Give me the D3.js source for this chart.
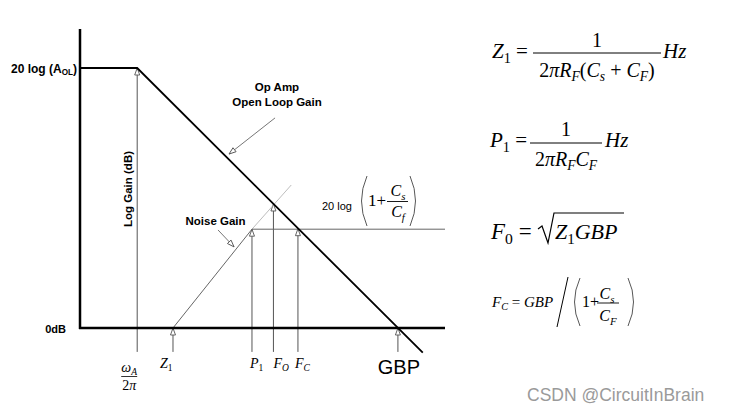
<!DOCTYPE html>
<html>
<head>
    <meta charset="UTF-8">
    <style>
        body { margin: 0; background: #fff; }
        svg { display: block; }
    </style>
</head>
<body>
    <svg></svg>
    <script src="https://d3js.org/d3.v7.min.js"></script>
    <script>

        let width = 729, height = 412;

        // frequency (Hz, log) and gain (dB) domains of the sketch
        const freqDomain = [0.8, 8e6];
        const dbDomain = [0, 115];
        const lineBottomDb = -9.2;

        // op amp open loop gain
        const openLoop = [
            { f: 0.8, db: 100 },
            { f: 10, db: 100 },
            { f: 3e6, db: -9.5 }
        ];

        // noise gain pieces
        const noiseRise = [{ f: 48.6, db: 0 }, { f: 1590, db: 38 }];
        const noiseExt = [{ f: 1590, db: 38 }, { f: 9000, db: 55 }];
        const noiseFlat = [{ f: 1590, db: 38 }, { f: 8e6, db: 38 }];

        // corner frequencies with arrows
        const corners = [
            { id: "wA", f: 10, db: 100 },
            { id: "Z1", f: 48.6, db: 0 },
            { id: "P1", f: 1590, db: 38 },
            { id: "F0", f: 4100, db: 47.7 },
            { id: "FC", f: 12100, db: 38.2 },
            { id: "GBP", f: 1e6, db: 0 }
        ];

        // y labels
        const yLabels = [
            { db: 100, parts: [["20 log (A", "r"], ["OL", "s"], [")", "r"]] },
            { db: 0, parts: [["0dB", "r"]] }
        ];

        // annotation arrows (from label towards curve)
        const annotations = [
            { lines: ["Op Amp", "Open Loop Gain"], at: { f: 4800, db: 91 }, from: { f: 4400, db: 80.8 }, to: { f: 577, db: 66.9 } },
            { lines: ["Noise Gain"], at: { f: 318, db: 39.5 }, from: { f: 355, db: 37.7 }, to: { f: 720, db: 31.2 } }
        ];

        const serif = "'Liberation Serif', 'Times New Roman', serif";
        const sans = "'Liberation Sans', Arial, sans-serif";

        let svg = d3.select("svg")
            .attr("width", width)
            .attr("height", height)
            .attr("viewBox", "0 0 " + width + " " + height);

        svg.append("rect").attr("width", width).attr("height", height).attr("fill", "#fff");

        let x = d3.scaleLog().domain(freqDomain).range([80, 445]);
        let y = d3.scaleLinear().domain(dbDomain).range([328, 29]);

        // open triangle arrow head
        svg.append("defs").append("marker")
            .attr("id", "tri")
            .attr("viewBox", "0 -4 9 8")
            .attr("refX", 8)
            .attr("refY", 0)
            .attr("markerWidth", 9)
            .attr("markerHeight", 8)
            .attr("markerUnits", "userSpaceOnUse")
            .attr("orient", "auto")
            .append("path")
            .attr("d", "M1,-2.5L8,0L1,2.5Z")
            .attr("fill", "#fff")
            .attr("stroke", "#555")
            .attr("stroke-width", 0.9);

        // text with italic / subscript pieces
        function mathText(g, px, py, parts, size, opts) {
            opts = opts || {};
            let t = g.append("text")
                .attr("x", px).attr("y", py)
                .attr("font-family", opts.family || serif)
                .attr("font-size", size)
                .attr("font-weight", opts.weight || "normal")
                .attr("text-anchor", opts.anchor || "start")
                .attr("fill", "#000");
            let shift = 0;
            parts.forEach(p => {
                let sub = p[1][0] === "s";
                let target = sub ? size * 0.22 : 0;
                t.append("tspan")
                    .text(p[0])
                    .attr("font-style", p[1].endsWith("i") ? "italic" : "normal")
                    .attr("font-size", sub ? size * 0.68 : size)
                    .attr("dy", target - shift);
                shift = target;
            });
            return t;
        }

        let line = d3.line().x(d => x(d.f)).y(d => y(d.db));

        let plot = svg.append("g");

        // corner frequency verticals
        plot.selectAll(".corner")
            .data(corners)
            .join("line")
            .attr("x1", d => x(d.f)).attr("x2", d => x(d.f))
            .attr("y1", y(lineBottomDb)).attr("y2", d => y(d.db))
            .attr("stroke", "#555")
            .attr("stroke-width", 1)
            .attr("marker-end", "url(#tri)");

        // noise gain
        plot.append("path").datum(noiseExt).attr("d", line)
            .attr("fill", "none").attr("stroke", "#b5b5b5").attr("stroke-width", 0.9);
        plot.append("path").datum(noiseRise).attr("d", line)
            .attr("fill", "none").attr("stroke", "#666").attr("stroke-width", 1);
        plot.append("path").datum(noiseFlat).attr("d", line)
            .attr("fill", "none").attr("stroke", "#666").attr("stroke-width", 1);

        // open loop gain
        plot.append("path").datum(openLoop).attr("d", line)
            .attr("fill", "none").attr("stroke", "#000").attr("stroke-width", 1.8);

        // axes
        plot.append("line")
            .attr("x1", x(freqDomain[0])).attr("x2", x(freqDomain[0]))
            .attr("y1", y(dbDomain[1])).attr("y2", y(0) + 1)
            .attr("stroke", "#000").attr("stroke-width", 2.5);
        plot.append("line")
            .attr("x1", x(freqDomain[0]) - 1).attr("x2", x(freqDomain[1]))
            .attr("y1", y(0)).attr("y2", y(0))
            .attr("stroke", "#000").attr("stroke-width", 2.5);

        // y labels
        yLabels.forEach(d => {
            mathText(plot, x(freqDomain[0]) - (d.db === 0 ? 14 : 3), y(d.db) + 4.5, d.parts, d.db === 0 ? 11 : 12,
                { family: sans, weight: "bold", anchor: "end" });
        });

        plot.append("text")
            .attr("transform", "translate(" + 132 + "," + 189 + ") rotate(-90)")
            .attr("text-anchor", "middle")
            .attr("font-family", sans).attr("font-weight", "bold").attr("font-size", 11.5)
            .text("Log Gain (dB)");

        // annotations
        annotations.forEach(a => {
            a.lines.forEach((s, i) => {
                plot.append("text")
                    .attr("x", x(a.at.f)).attr("y", y(a.at.db) + i * 15)
                    .attr("text-anchor", "middle")
                    .attr("font-family", sans).attr("font-weight", "bold").attr("font-size", 11.5)
                    .text(s);
            });
            plot.append("line")
                .attr("x1", x(a.from.f)).attr("y1", y(a.from.db))
                .attr("x2", x(a.to.f)).attr("y2", y(a.to.db))
                .attr("stroke", "#666").attr("stroke-width", 0.9)
                .attr("marker-end", "url(#tri)");
        });

        // noise gain level label: 20 log (1 + Cs/Cf)
        let lvl = plot.append("g");
        lvl.append("text").attr("x", 322).attr("y", 210)
            .attr("font-family", sans).attr("font-size", 11).text("20 log");
        lvl.append("path").attr("d", "M367,176 Q356,201 367,226").attr("fill", "none").attr("stroke", "#444").attr("stroke-width", 0.9);
        lvl.append("path").attr("d", "M410,176 Q421,201 410,226").attr("fill", "none").attr("stroke", "#444").attr("stroke-width", 0.9);
        mathText(lvl, 368, 206, [["1+", "r"]], 17);
        lvl.append("line").attr("x1", 387).attr("x2", 408).attr("y1", 201.5).attr("y2", 201.5).attr("stroke", "#000").attr("stroke-width", 0.9);
        mathText(lvl, 398, 196, [["C", "i"], ["s", "si"]], 16, { anchor: "middle" });
        mathText(lvl, 398, 217, [["C", "i"], ["f", "si"]], 16, { anchor: "middle" });

        // frequency labels
        let fl = plot.append("g");
        let fx = id => x(corners.find(c => c.id === id).f);
        mathText(fl, fx("wA") - 8, 372, [["ω", "i"], ["A", "si"]], 14, { anchor: "middle" });
        fl.append("line").attr("x1", fx("wA") - 16).attr("x2", fx("wA")).attr("y1", 376.5).attr("y2", 376.5).attr("stroke", "#000").attr("stroke-width", 0.8);
        mathText(fl, fx("wA") - 8, 390, [["2", "r"], ["π", "i"]], 14, { anchor: "middle" });
        mathText(fl, fx("Z1") - 13, 368, [["Z", "i"], ["1", "sr"]], 14);
        mathText(fl, fx("P1") - 2, 368, [["P", "i"], ["1", "sr"]], 14);
        mathText(fl, fx("F0"), 368, [["F", "i"], ["O", "si"]], 14);
        mathText(fl, fx("FC") - 3, 368, [["F", "i"], ["C", "si"]], 14);
        fl.append("text").attr("x", fx("GBP") + 1).attr("y", 374)
            .attr("text-anchor", "middle")
            .attr("font-family", sans).attr("font-size", 20).text("GBP");

        // formulas on the right
        let eq = svg.append("g");
        // Z1
        mathText(eq, 492, 58, [["Z", "i"], ["1", "sr"], [" = ", "r"]], 21);
        mathText(eq, 597, 47, [["1", "r"]], 20, { anchor: "middle" });
        eq.append("line").attr("x1", 533).attr("x2", 661).attr("y1", 53).attr("y2", 53).attr("stroke", "#000").attr("stroke-width", 1);
        mathText(eq, 597, 77, [["2", "r"], ["πR", "i"], ["F", "si"], ["(", "r"], ["C", "i"], ["s", "si"], [" + ", "r"], ["C", "i"], ["F", "si"], [")", "r"]], 20, { anchor: "middle" });
        mathText(eq, 663, 58, [["Hz", "i"]], 21);
        // P1
        mathText(eq, 490, 147, [["P", "i"], ["1", "sr"], [" = ", "r"]], 21);
        mathText(eq, 566, 136, [["1", "r"]], 20, { anchor: "middle" });
        eq.append("line").attr("x1", 530).attr("x2", 602).attr("y1", 143).attr("y2", 143).attr("stroke", "#000").attr("stroke-width", 1);
        mathText(eq, 566, 166, [["2", "r"], ["πR", "i"], ["F", "si"], ["C", "i"], ["F", "si"]], 20, { anchor: "middle" });
        mathText(eq, 605, 147, [["Hz", "i"]], 21);
        // F0
        mathText(eq, 491, 239, [["F", "i"], ["0", "sr"], [" = ", "r"]], 23);
        eq.append("path").attr("d", "M538,229L542,226L548,243L554,213L624,213")
            .attr("fill", "none").attr("stroke", "#000").attr("stroke-width", 1.2);
        mathText(eq, 555, 239, [["Z", "i"], ["1", "sr"], ["GBP", "i"]], 22);
        // FC
        mathText(eq, 492, 307, [["F", "i"], ["C", "si"], [" = ", "r"], ["GBP", "i"]], 15);
        eq.append("line").attr("x1", 568).attr("y1", 277).attr("x2", 557).attr("y2", 327).attr("stroke", "#000").attr("stroke-width", 1);
        eq.append("path").attr("d", "M580,278 Q569,302 580,326").attr("fill", "none").attr("stroke", "#444").attr("stroke-width", 0.9);
        eq.append("path").attr("d", "M628,278 Q639,302 628,326").attr("fill", "none").attr("stroke", "#444").attr("stroke-width", 0.9);
        mathText(eq, 582, 307, [["1+", "r"]], 16);
        eq.append("line").attr("x1", 597).attr("x2", 619).attr("y1", 303).attr("y2", 303).attr("stroke", "#000").attr("stroke-width", 0.9);
        mathText(eq, 607, 299, [["C", "i"], ["s", "si"]], 16, { anchor: "middle" });
        mathText(eq, 608, 321, [["C", "i"], ["F", "si"]], 16, { anchor: "middle" });

        // watermark
        svg.append("text").attr("x", 527).attr("y", 401)
            .attr("font-family", sans).attr("font-size", 17.5)
            .attr("fill", "#9a9a9a")
            .text("CSDN @CircuitInBrain");

    </script>
</body>
</html>
